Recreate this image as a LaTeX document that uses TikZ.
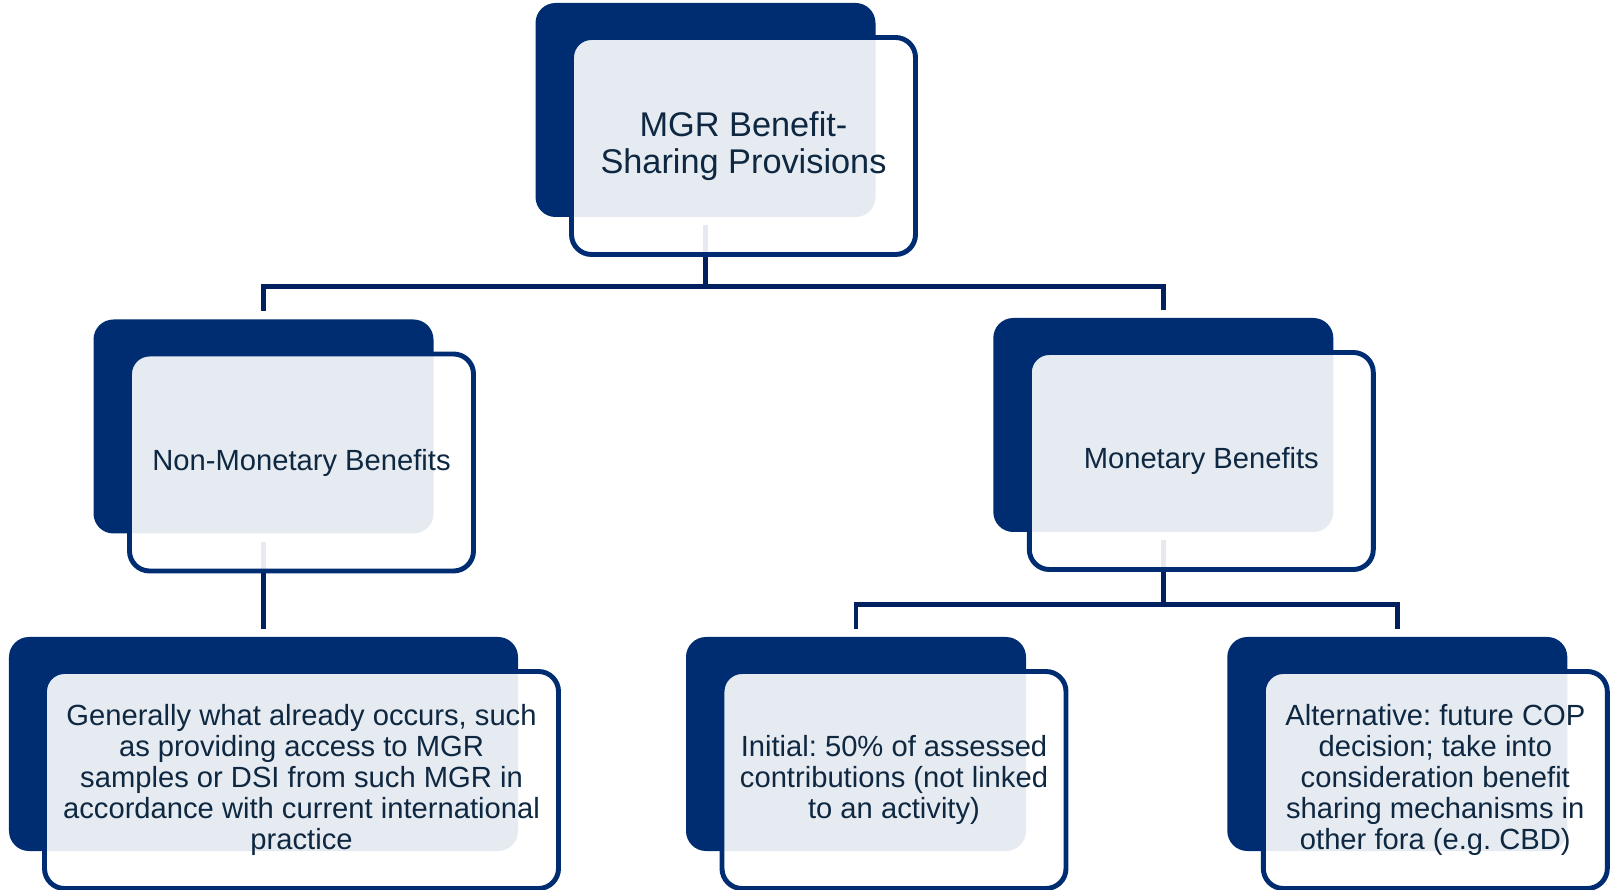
\documentclass[tikz,border=0pt]{standalone}
\usepackage{fontspec}
\setmainfont{Liberation Sans}
\usetikzlibrary{calc}
\frenchspacing
\definecolor{marine}{HTML}{002D72}
\definecolor{nuit}{HTML}{002060}
\definecolor{encre}{HTML}{0E2841}

\begin{document}
\begin{tikzpicture}[line width=1.4pt,
  boxback/.style={fill=marine, rounded corners=0.2cm, minimum width=3.40cm, minimum height=2.14cm, inner sep=0pt},
  boxfront/.style={draw=marine, fill=white, fill opacity=0.9, text opacity=1, text=encre, rounded corners=0.2cm,
    minimum width=3.44cm, minimum height=2.17cm, inner sep=0pt, align=center, font=\fontsize{8.3}{8.8}\selectfont},
  lien/.style={draw=nuit, shorten <=0.06cm, shorten >=0.06cm}]
\useasboundingbox (0,0) rectangle (16.11,-8.90);
% back boxes
\node[boxback] (mgrback) at (7.055,-1.10) {};
\node[boxback] (nonmonback) at (2.635,-4.265) {};
\node[boxback] (monback) at (11.633,-4.25) {};
\node[boxback, minimum width=5.09cm] (generalback) at (2.635,-7.44) {};
\node[boxback] (initialback) at (8.56,-7.44) {};
\node[boxback] (alternativeback) at (13.973,-7.44) {};
% links
\draw[lien] (mgrback.south) -- ++(0,-0.67) -| (nonmonback.north);
\draw[lien] (mgrback.south) -- ++(0,-0.67) -| (monback.north);
\draw[lien] (nonmonback.south) -- (generalback.north);
\draw[lien] (monback.south) -- ++(0,-0.705) -| (initialback.north);
\draw[lien] (monback.south) -- ++(0,-0.705) -| (alternativeback.north);
% box MGR
\node[boxfront, font=\fontsize{9.76}{10.5}\selectfont] (mgr) at ($(mgrback)+(0.38,-0.36)$) {MGR Benefit-\\Sharing Provisions};
% box Non-Monetary
\node[boxfront] (nonmon) at ($(nonmonback)+(0.38,-0.36)$) {Non-Monetary Benefits};
% box Monetary
\node[boxfront] (mon) at ($(monback)+(0.38,-0.36)$) {Monetary Benefits};
% box Generally
\node[boxfront, minimum width=5.14cm] (general) at ($(generalback)+(0.38,-0.36)$) {Generally what already occurs, such\\as providing access to MGR\\samples or DSI from such MGR in\\accordance with current international\\practice};
% box Initial
\node[boxfront] (initial) at ($(initialback)+(0.38,-0.36)$) {Initial: 50\% of assessed\\contributions (not linked\\to an activity)};
% box Alternative
\node[boxfront] (alternative) at ($(alternativeback)+(0.38,-0.36)$) {Alternative: future COP\\decision; take into\\consideration benefit\\sharing mechanisms in\\other fora (e.g. CBD)};
\end{tikzpicture}
\end{document}
